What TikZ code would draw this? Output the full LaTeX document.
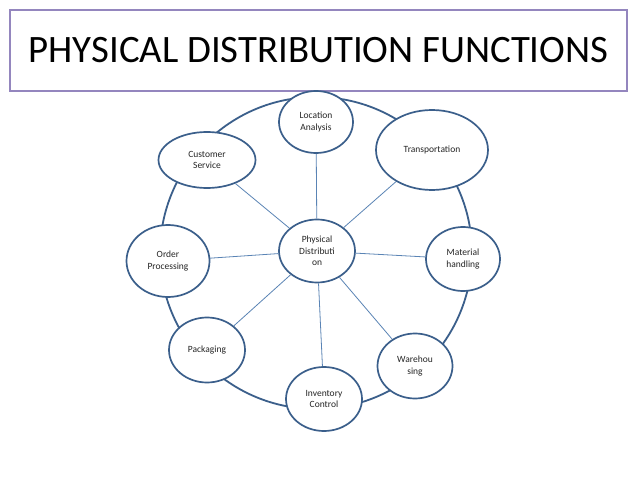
\documentclass[tikz,border=0pt]{standalone}
\usepackage{fontspec}
\setmainfont{Carlito}
\usetikzlibrary{shapes.geometric}
\definecolor{rimblue}{HTML}{3B5F8B}
\definecolor{spokeblue}{HTML}{5A84B5}
\definecolor{titlepurple}{HTML}{9486BE}
\tikzset{
  fn/.style={ellipse, draw=rimblue, line width=1.7pt, fill=white, inner sep=0pt,
    align=center, font=\fontsize{9.5}{11.5}\selectfont, text=black!85},
  spoke/.style={draw=spokeblue, line width=0.8pt},
  rim/.style={draw=rimblue, line width=1.8pt},
}
\begin{document}
\begin{tikzpicture}[x=1pt,y=-1pt]
\useasboundingbox (0,0) rectangle (638,479);
\fill[white] (0,0) rectangle (638,479);
\node[draw=titlepurple, line width=1.2pt, minimum width=617pt, minimum height=81pt, inner sep=0pt,
  font=\fontsize{38.8}{40}\selectfont] (title) at (318.5,50.5) {PHYSICAL DISTRIBUTION FUNCTIONS};
\draw[rim] (316,253) circle[radius=156];
\node[fn, minimum width=76pt, minimum height=63pt] (pd) at (317,251) {Physical\\Distributi\\on};
\node[fn, minimum width=74pt, minimum height=62pt] (loc) at (316,122) {Location\\Analysis};
\node[fn, minimum width=97pt, minimum height=56pt] (cs) at (207,160) {Customer\\Service};
\node[fn, minimum width=112pt, minimum height=80pt] (tr) at (432,150) {Transportation};
\node[fn, minimum width=83pt, minimum height=72pt] (op) at (168,261) {Order\\Processing};
\node[fn, minimum width=74pt, minimum height=64pt] (mh) at (463,259) {Material\\handling};
\node[fn, minimum width=76pt, minimum height=65pt] (pk) at (207,350) {Packaging};
\node[fn, minimum width=76pt, minimum height=64pt] (ic) at (324,399) {Inventory\\Control};
\node[fn, minimum width=75pt, minimum height=65pt] (wh) at (415,366) {Warehou\\sing};
\foreach \n in {loc,cs,tr,op,mh,pk,ic,wh} \draw[spoke] (pd) -- (\n);
\end{tikzpicture}
\end{document}
